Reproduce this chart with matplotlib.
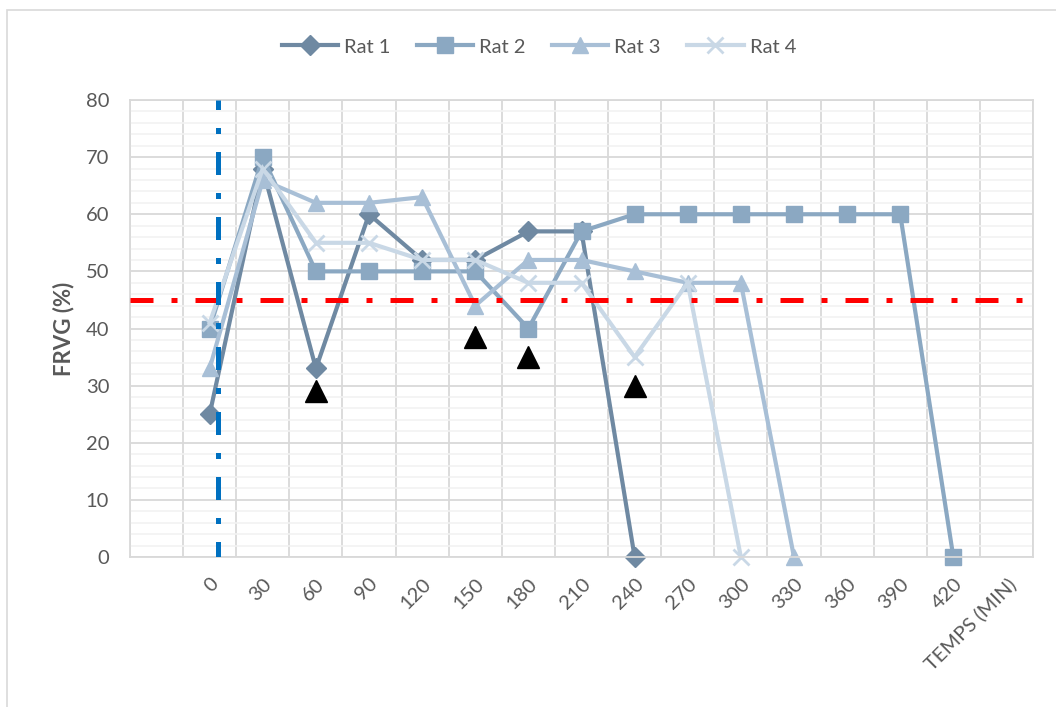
import matplotlib.pyplot as plt
from matplotlib.patches import Rectangle
from matplotlib.ticker import MultipleLocator, FixedLocator
from matplotlib.transforms import ScaledTranslation

plt.rcParams['font.family'] = ['Lato', 'DejaVu Sans']

# Categories (first one is an empty slot, last one is the axis title)
categories = ["", "0", "30", "60", "90", "120", "150", "180", "210", "240",
              "270", "300", "330", "360", "390", "420", "TEMPS (MIN)"]

rat1 = [25, 68, 33, 60, 52, 52, 57, 57, 0]
rat2 = [40, 70, 50, 50, 50, 50, 40, 57, 60, 60, 60, 60, 60, 60, 0]
rat3 = [33, 66, 62, 62, 63, 44, 52, 52, 50, 48, 48, 0]
rat4 = [41, 68, 55, 55, 52, 52, 48, 48, 35, 48, 0]

# black arrow-heads below some points
arrow_times = ["60", "150", "180", "240"]
arrow_values = [29, 38.5, 35, 30]

threshold = 45
injection_x = 1.16

grey = "#595959"
grid_col = "#D9D9D9"

fig = plt.figure(figsize=(10.56, 7.07), dpi=100)
ax = fig.add_axes([130 / 1056, 150 / 707, 903 / 1056, 457 / 707])

# chart border (only top/left are inside the picture)
fig.patches.append(Rectangle((7 / 1056, -0.1), 1.2, 1 - 10 / 707 + 0.1,
                             transform=fig.transFigure, fill=False,
                             edgecolor=grid_col, linewidth=1.2))

series = [
    ("Rat 1", rat1, "#6F89A2", "D", 10),
    ("Rat 2", rat2, "#8BA8C2", "s", 12),
    ("Rat 3", rat3, "#A8BFD6", "^", 12),
    ("Rat 4", rat4, "#C9D8E6", "x", 11),
]
for name, vals, col, mk, ms in series:
    xs = list(range(1, len(vals) + 1))
    ax.plot(xs, vals, color=col, lw=3, marker=mk, ms=ms, mfc=col, mec=col,
            mew=2 if mk == "x" else 1, label=name, solid_joinstyle="miter",
            clip_on=False)

ax.plot([categories.index(t) for t in arrow_times], arrow_values,
        ls="none", marker="^", ms=16, color="black", zorder=6)

dash = (0, (4.6, 3.6, 1.2, 3.6))
ax.axhline(threshold, color="red", lw=3.6, ls=dash, dash_capstyle="butt", zorder=7)
ax.plot([injection_x, injection_x], [0, 80], color="#0070C0", lw=3.6,
        ls=(1.5, (4.6, 3.6, 1.2, 3.6)), dash_capstyle="butt", zorder=7)

ax.set_xlim(-0.5, len(categories) - 0.5)
ax.set_ylim(0, 80)
ax.yaxis.set_major_locator(MultipleLocator(10))
ax.yaxis.set_minor_locator(MultipleLocator(2))
ax.xaxis.set_major_locator(FixedLocator(range(len(categories))))
ax.xaxis.set_minor_locator(FixedLocator([i - 0.5 for i in range(len(categories) + 1)]))
ax.set_xticklabels(categories, rotation=45, ha="right", va="top",
                   rotation_mode="anchor", color=grey, fontsize=14.5)
shift = ScaledTranslation(-4 / 72, 2 / 72, fig.dpi_scale_trans)
for lab in ax.get_xticklabels():
    lab.set_transform(lab.get_transform() + shift)

ax.grid(True, which="minor", axis="y", color="#F2F2F2", lw=1.2)
ax.grid(True, which="major", axis="y", color=grid_col, lw=1.3)
ax.grid(True, which="minor", axis="x", color=grid_col, lw=1.3)
ax.set_axisbelow(True)
ax.tick_params(which="both", length=0)
ax.tick_params(axis="x", pad=13)
ax.tick_params(axis="y", labelsize=14.5, labelcolor=grey, pad=15)
for s in ax.spines.values():
    s.set_color(grid_col)
    s.set_linewidth(1.3)

ax.set_ylabel("FRVG (%)", fontsize=16, fontweight="bold", color=grey, labelpad=8)

fig.legend(loc="center", bbox_to_anchor=(539 / 1056, 1 - 47 / 707), ncol=4,
           frameon=False, fontsize=14.5, labelcolor=grey, handlelength=2.8,
           handletextpad=0.3, columnspacing=1.3)

fig.savefig("out.png", dpi=100)
